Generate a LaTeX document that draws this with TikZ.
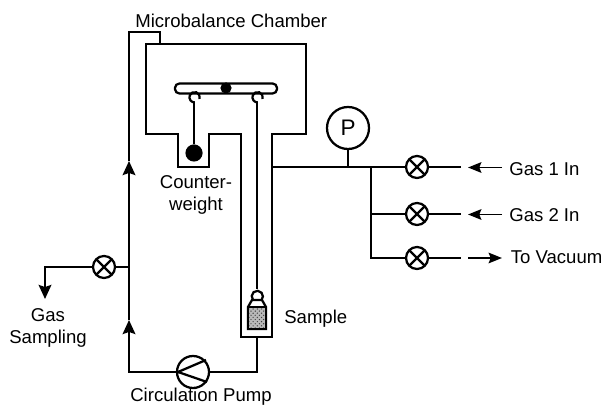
\documentclass[tikz,border=0pt]{standalone}
\usepackage{fontspec}
\setmainfont{Liberation Sans}
\usetikzlibrary{arrows.meta, patterns}
\tikzset{
	x=0.025cm, y=-0.025cm, % one unit is one pixel of the drawing
	pipe/.style={line width=1.6pt, line join=miter},
	flow/.style={pipe, -{Stealth[length=10pt,width=9pt,inset=1.5pt]}},
	thinflow/.style={line width=1.35pt, -{Stealth[length=9.5pt,width=7.5pt,inset=1.5pt]}},
	valve/.style={circle, draw, pipe, fill=white, minimum size=0.55cm, inner sep=0pt,
		path picture={
			\draw[pipe] (path picture bounding box.north west) -- (path picture bounding box.south east);
			\draw[pipe] (path picture bounding box.north east) -- (path picture bounding box.south west);
		}},
	pump/.style={circle, draw, pipe, fill=white, minimum size=0.8cm, inner sep=0pt},
	gauge/.style={circle, draw, pipe, fill=white, minimum size=1.05cm, inner sep=0pt, font=\fontsize{16}{16}\selectfont},
	label/.style={font=\fontsize{13.2}{15.6}\selectfont, align=center, inner sep=5pt},
}

\begin{document}
\begin{tikzpicture}
		\useasboundingbox (0,0) rectangle (605,406);
		% chamber and sample tube
		\draw[pipe] (146,44) -- (306,44) -- (306,134) -- (272,134) -- (272,337) -- (241,337) -- (241,134)
			-- (209,134) -- (209,167) -- (178,167) -- (178,134) -- (146,134) -- cycle;
		% balance
		\node[draw, pipe, rounded corners=0.11cm, minimum width=2.55cm, minimum height=0.25cm, inner sep=0pt] (beam) at (226,88.5) {};
		\node[circle, fill=black, minimum size=0.28cm, inner sep=0pt] (pivot) at (226,88) {};
		\node[circle, fill=black, minimum size=0.43cm, inner sep=0pt] (weight) at (194,153) {};
		\coordinate (hookl) at (194,102);
		\coordinate (hookr) at (257,102);
		\draw[pipe] (199.5,99) arc[start angle=-20, delta angle=290, radius=0.13cm];
		\draw[pipe] (262.5,99) arc[start angle=-20, delta angle=290, radius=0.13cm];
		\draw[pipe] (hookl) -- (weight);
		% sample
		\coordinate (hooks) at (257,289);
		\draw[pipe] (hookr) -- (hooks);
		\draw[pipe] (253,300) arc[start angle=220, delta angle=-260, radius=0.14cm];
		\draw[pipe] (252,300) -- (262,300) -- (266,307) -- (266,329) -- (248,329) -- (248,307) -- cycle;
		\fill[gray!55] (249,307) rectangle (265,328);
		\fill[pattern=crosshatch dots, pattern color=black!75] (249,307) rectangle (265,328);
		\draw[pipe] (248,307) -- (266,307);

		% circulation loop
		\node[pump] (circpump) at (193,372) {};
		\draw[pipe] (178,372) -- (206,360);
		\draw[pipe] (178,372) -- (207,382);
		\node[valve] (sampvalve) at (104,267) {};
		\coordinate (loopcorner) at (129,372);
		\coordinate (looptipa) at (129,320);
		\coordinate (looptipb) at (129,161);
		\coordinate (looptop) at (129,32);
		\coordinate (tubebottom) at (257,337);
		\draw[pipe] (tubebottom) |- (circpump);
		\draw[flow] (circpump) -- (loopcorner) -- (looptipa);
		\draw[flow] (looptipa) -- (looptipb);
		\draw[pipe] (looptipb) -- (looptop) -- (160,32) -- (160,44);
		\draw[pipe] (sampvalve) -- (129,267);
		\coordinate (samptip) at (45,299);
		\draw[flow] (sampvalve) -| (samptip);
		\node[label] (gassampling) at (48,328) {Gas\\Sampling};

		% gas manifold
		\node[gauge] (pgauge) at (348,128) {P};
		\node[valve] (valveone) at (417,167) {};
		\node[valve] (valvetwo) at (417,214) {};
		\node[valve] (valvethree) at (417,258) {};
		\coordinate (chamberout) at (272,167);
		\coordinate (branch) at (371,167);
		\coordinate (endone) at (461,167);
		\coordinate (endtwo) at (461,214);
		\coordinate (endthree) at (461,258);
		\draw[pipe] (chamberout) -- (valveone) -- (endone);
		\draw[pipe] (pgauge) -- (348,167);
		\draw[pipe] (branch) |- (valvethree);
		\draw[pipe] (371,214) -- (valvetwo) -- (endtwo);
		\draw[pipe] (valvethree) -- (endthree);

		\node[label, anchor=west] (gasone) at (502,169) {Gas 1 In};
		\node[label, anchor=west] (gastwo) at (502,215) {Gas 2 In};
		\node[label, anchor=west] (tovacuum) at (503.5,257) {To Vacuum};
		\coordinate (tipone) at (468,167.5);
		\coordinate (tiptwo) at (468,214.5);
		\coordinate (startthree) at (468,258);
		\draw[thinflow] (502,167.5) -- (tipone);
		\draw[thinflow] (502,214.5) -- (tiptwo);
		\draw[thinflow] (startthree) -- (502,258);

		\node[label, anchor=west] (microbalance) at (128,21) {Microbalance Chamber};
		\node[label] (counterweight) at (196,195) {Counter-\\weight};
		\node[label, anchor=west] (sample) at (277,319) {Sample};
		\node[label] (circulation) at (201,397) {Circulation Pump};
\end{tikzpicture}
\end{document}
